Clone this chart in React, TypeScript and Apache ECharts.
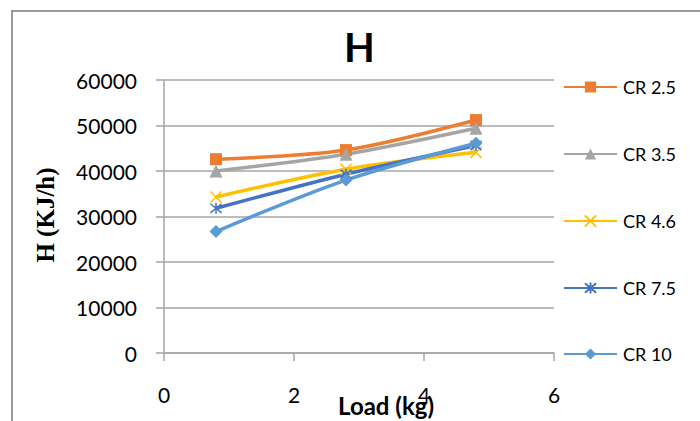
import React, { useEffect, useRef } from 'react';
import * as echarts from 'echarts';

const loads = [0.8, 2.8, 4.8];
const seriesNames = ['CR 2.5', 'CR 3.5', 'CR 4.6', 'CR 7.5', 'CR 10'];
const cr25 = [42600, 44600, 51200];
const cr35 = [40000, 43700, 49400];
const cr46 = [34300, 40400, 44100];
const cr75 = [31800, 39300, 45600];
const cr10 = [26700, 38000, 46100];
const seriesValues = [cr25, cr35, cr46, cr75, cr10];
const colors = ['#ED7D31', '#A5A5A5', '#FFC000', '#4472C4', '#5B9BD5'];
const symbols = [
  'rect',
  'triangle',
  'path://M0,0L10,10M10,0L0,10',
  'path://M0,0L10,10M10,0L0,10M5,-1L5,11',
  'diamond',
];
const symbolSizes = [12, 13, 11, 11, 13];
const legendCenters = [87, 154, 221, 288, 354];

const titleText = 'H';
const xName = 'Load (kg)';
const yName = 'H (KJ/h)';

export default function App() {
  const ref = useRef<HTMLDivElement>(null);
  useEffect(() => {
    if (!ref.current) return;
    const chart = echarts.init(ref.current, null, { renderer: 'svg' });
    const font = 'Lato';
    chart.setOption({
      animation: false,
      backgroundColor: '#ffffff',
      title: {
        text: titleText,
        left: 339,
        top: 22,
        textStyle: { fontFamily: font, fontWeight: 'bold', fontSize: 40, color: '#000' },
      },
      grid: { left: 164, right: 146, top: 80, bottom: 68 },
      legend: seriesNames.map((n, i) => ({
        data: [n],
        orient: 'vertical',
        left: 563,
        top: legendCenters[i] - 10,
        padding: 0,
        itemWidth: 53,
        itemHeight: 14,
        itemGap: 0,
        textStyle: { fontFamily: font, fontSize: 18, color: '#000', lineHeight: 20, padding: [0, 0, 0, 1] },
        selectedMode: false,
      })),
      xAxis: {
        type: 'value',
        min: 0,
        max: 6,
        interval: 2,
        axisLine: { show: true, lineStyle: { color: '#a6a6a6', width: 1.5 } },
        axisTick: { show: true, length: 8, lineStyle: { color: '#a6a6a6', width: 1.5 } },
        axisLabel: { fontFamily: font, fontSize: 21, color: '#000', margin: 31 },
        splitLine: { show: false },
      },
      yAxis: {
        type: 'value',
        min: 0,
        max: 60000,
        interval: 10000,
        axisLine: { show: true, lineStyle: { color: '#a6a6a6', width: 1.5 } },
        axisTick: { show: true, length: 8, lineStyle: { color: '#a6a6a6', width: 1.5 } },
        axisLabel: {
          fontFamily: font,
          fontSize: 21,
          color: '#000',
          margin: 27,
          formatter: (v: number) => String(v),
        },
        splitLine: { show: true, lineStyle: { color: '#a6a6a6', width: 1.5 } },
      },
      graphic: [
        {
          type: 'rect',
          shape: { x: 12, y: 11, width: 720, height: 440 },
          style: { fill: 'none', stroke: '#9a9a9a', lineWidth: 2 },
          silent: true,
        },
        {
          type: 'text',
          x: 45,
          y: 215,
          rotation: Math.PI / 2,
          style: {
            text: yName,
            fontFamily: 'Liberation Serif',
            fontWeight: 'bold',
            fontSize: 25,
            fill: '#000',
            textAlign: 'center',
            textVerticalAlign: 'middle',
          },
        },
        {
          type: 'text',
          x: 386,
          y: 405,
          style: {
            text: xName,
            fontFamily: font,
            fontWeight: 'bold',
            fontSize: 24,
            fill: '#000',
            textAlign: 'center',
            textVerticalAlign: 'middle',
          },
        },
      ],
      series: seriesNames.map((n, i) => ({
        name: n,
        type: 'line',
        data: loads.map((x, j) => [x, seriesValues[i][j]]),
        smooth: 0.3,
        symbol: symbols[i],
        symbolSize: symbolSizes[i],
        showAllSymbol: true,
        lineStyle: { color: colors[i], width: 3.5 },
        itemStyle: { color: colors[i], borderColor: colors[i], borderWidth: i === 2 || i === 3 ? 1.5 : 0 },
        emphasis: { disabled: true },
      })),
    });
    return () => chart.dispose();
  }, []);
  return <div ref={ref} style={{ position: 'absolute', left: 0, top: 0, width: 700, height: 421 }} />;
}
